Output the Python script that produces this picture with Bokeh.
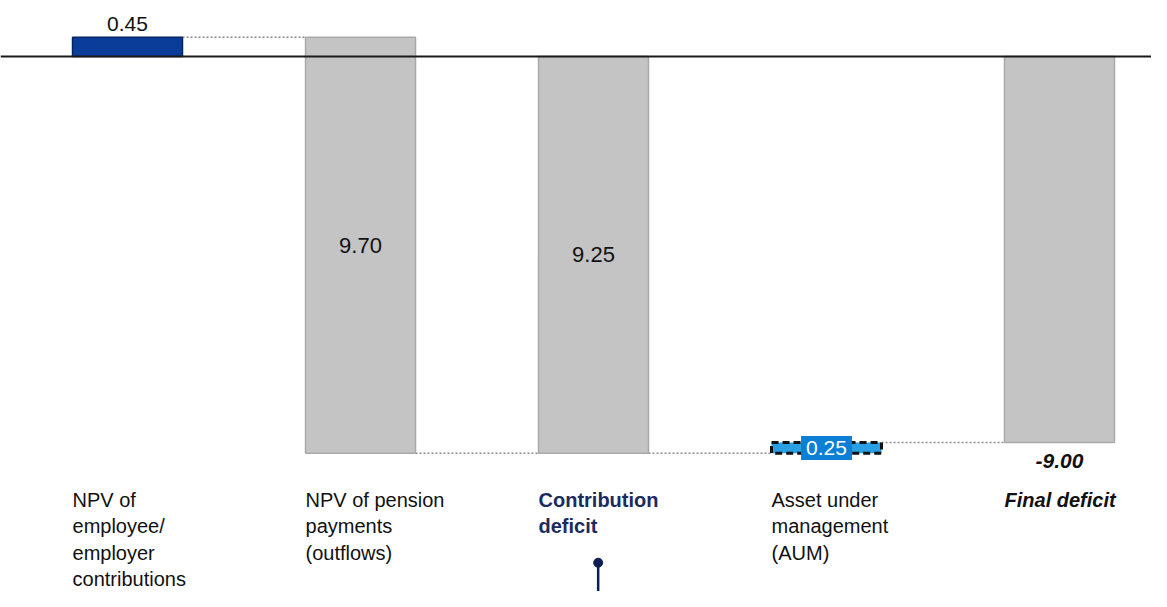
from bokeh.plotting import figure
from bokeh.models import ColumnDataSource, Range1d, Span
from bokeh.core.properties import value
from bokeh.embed import file_html
from bokeh.resources import INLINE

# ---- data ----
categories = ["NPV of\nemployee/\nemployer\ncontributions",
              "NPV of pension\npayments\n(outflows)",
              "Contribution\ndeficit",
              "Asset under\nmanagement\n(AUM)",
              "Final deficit"]
values = [0.45, -9.70, -9.25, 0.25, -9.00]
is_total = [False, False, True, False, True]
value_labels = ["0.45", "9.70", "9.25", "0.25", "-9.00"]

# ---- waterfall geometry from data ----
n = len(values)
xs = list(range(n))
bottoms, tops = [], []
running = 0.0
for v, tot in zip(values, is_total):
    if tot:
        b, t = min(0, v), max(0, v)
        running = v
    else:
        start = running
        running = running + v
        b, t = min(start, running), max(start, running)
    bottoms.append(b)
    tops.append(t)

BW = 0.472
fills = ["#0a3c9a", "#c4c4c4", "#c4c4c4", "#2b9fe3", "#c4c4c4"]
lines = ["#06245f", "#a9a9a9", "#a9a9a9", "#111111", "#a9a9a9"]

FONT = "Liberation Sans"

p = figure(width=1151, height=591, output_backend="svg", toolbar_location=None,
           x_range=Range1d(-0.5451, 4.3948), y_range=Range1d(-12.471, 1.3054),
           min_border=0)
p.axis.visible = False
p.grid.visible = False
p.outline_line_color = None
p.background_fill_color = "white"

# baseline
p.add_layout(Span(location=0, dimension="width", line_color="#1a1a1a", line_width=2))

# connectors
cx0, cx1, cy = [], [], []
for i in range(n - 1):
    if i == 0:
        level = tops[0]
    elif i == 1:
        level = bottoms[1]
    elif i == 2:
        level = bottoms[2]
    else:
        level = tops[3]
    cx0.append(xs[i] + BW / 2)
    cx1.append(xs[i + 1] - BW / 2)
    cy.append(level)
p.segment(x0=cx0, y0=cy, x1=cx1, y1=cy, line_color="#8c8c8c", line_width=1.5, line_dash="2 2")

# bars (solid ones)
solid = [i for i in range(n) if i != 3]
p.vbar(x=[xs[i] for i in solid], width=BW, bottom=[bottoms[i] for i in solid],
       top=[tops[i] for i in solid], fill_color=[fills[i] for i in solid],
       line_color=[lines[i] for i in solid], line_width=1.5)
# AUM bar with dashed outline
p.vbar(x=[xs[3]], width=BW, bottom=[bottoms[3]], top=[tops[3]], fill_color=fills[3],
       line_color="#111111", line_width=3, line_dash="7 4")

# value labels
p.text(x=[xs[0]], y=[tops[0]], text=[value_labels[0]], text_align="center",
       text_baseline="bottom", y_offset=-6, text_font=value(FONT), text_font_size="21px",
       text_color="#111111")
mid_idx = [1, 2]
p.text(x=[xs[i] for i in mid_idx], y=[(bottoms[i] + tops[i]) / 2 for i in mid_idx],
       text=[value_labels[i] for i in mid_idx], text_align="center", text_baseline="middle",
       text_font=value(FONT), text_font_size="22px", text_color="#111111")
p.text(x=[xs[3]], y=[(bottoms[3] + tops[3]) / 2], text=[value_labels[3]],
       text_align="center", text_baseline="middle", text_font=value(FONT),
       text_font_size="21px", text_color="white", background_fill_color="#0a7fd4",
       padding=5)
p.text(x=[xs[4]], y=[bottoms[4]], text=[value_labels[4]], text_align="center",
       text_baseline="top", y_offset=11, text_font=value(FONT), text_font_size="21px",
       text_font_style="bold italic", text_color="#111111")

# category labels
styles = ["normal", "normal", "bold", "normal", "bold italic"]
colors = ["#111111", "#111111", "#1c2b5e", "#111111", "#111111"]
src = ColumnDataSource(dict(x=[x - BW / 2 for x in xs], y=[-10.08] * n, text=categories,
                            style=styles, color=colors))
p.text(x="x", y="y", text="text", source=src, text_align="left", text_baseline="top",
       text_font=value(FONT), text_font_size="20px", text_font_style="style",
       text_color="color", text_line_height=1.2)

# pointer under "Contribution deficit"
p.segment(x0=[xs[2] + 0.02], y0=[-11.8], x1=[xs[2] + 0.02], y1=[-13.0],
          line_color="#0d1f52", line_width=2.5)
p.scatter(x=[xs[2] + 0.02], y=[-11.8], size=9, color="#0d1f52")

open("out.html", "w").write(file_html(p, INLINE))
